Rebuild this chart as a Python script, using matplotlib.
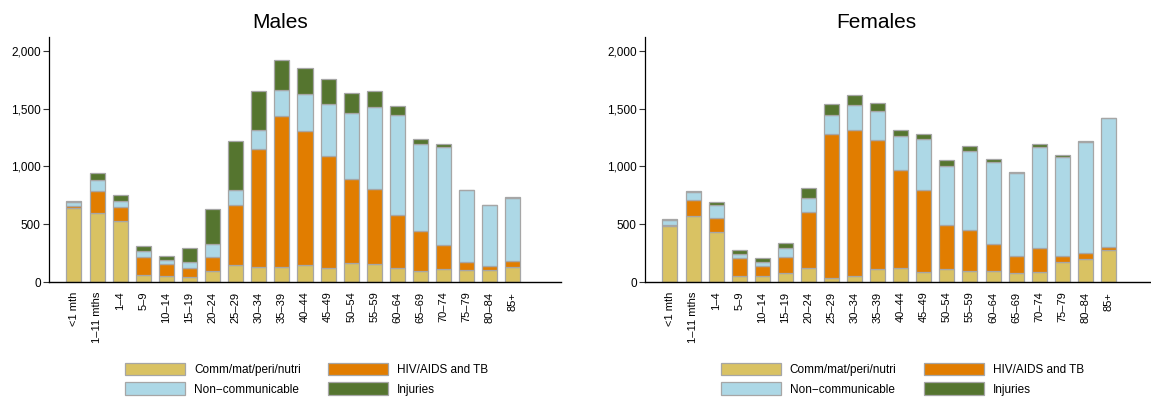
import matplotlib.pyplot as plt
import numpy as np
import matplotlib.patches as mpatches

plt.rcParams['font.family'] = ['Liberation Sans', 'DejaVu Sans']

ages = ['<1 mth', '1–11 mths', '1–4', '5–9', '10–14', '15–19', '20–24', '25–29',
        '30–34', '35–39', '40–44', '45–49', '50–54', '55–59', '60–64', '65–69',
        '70–74', '75–79', '80–84', '85+']
causes = ['Comm/mat/peri/nutri', 'HIV/AIDS and TB', 'Non−communicable', 'Injuries']

# males
m_comm = [640, 600, 525, 60, 52, 43, 92, 144, 130, 126, 144, 121, 164, 156, 121, 95, 112, 104, 104, 130]
m_hiv = [15, 190, 125, 155, 104, 75, 124, 522, 1017, 1312, 1159, 969, 727, 648, 461, 346, 205, 69, 31, 48]
m_ncd = [40, 95, 55, 50, 37, 55, 109, 126, 170, 219, 323, 450, 567, 706, 865, 755, 851, 619, 528, 551]
m_inj = [10, 55, 50, 45, 32, 121, 309, 424, 332, 260, 228, 216, 177, 142, 72, 38, 28, 5, 3, 9]

# females
f_comm = [485, 571, 432, 49, 52, 75, 121, 37, 52, 112, 124, 87, 112, 95, 92, 80, 87, 176, 202, 273]
f_hiv = [10, 141, 118, 159, 83, 144, 485, 1240, 1260, 1116, 841, 709, 378, 357, 233, 148, 204, 49, 49, 32]
f_ncd = [45, 68, 116, 31, 38, 75, 117, 164, 219, 251, 298, 441, 516, 678, 710, 717, 879, 859, 963, 1114]
f_inj = [5, 5, 28, 38, 37, 40, 93, 101, 83, 69, 52, 40, 49, 43, 26, 6, 20, 15, 3, 3]

colors = ['#d9c263', '#e17d00', '#add8e6', '#55752f']
edge = '#a6a6a6'

fig = plt.figure(figsize=(11.51, 4.03), dpi=100)

panels = [
    ('Males', [m_comm, m_hiv, m_ncd, m_inj], [49 / 1151, 0.3002, 512 / 1151, 0.6082], 21.08, 280.5 / 1151, 125 / 1151),
    ('Females', [f_comm, f_hiv, f_ncd, f_inj], [645 / 1151, 0.3002, 505.7 / 1151, 0.6082], 20.83, 876 / 1151, 720.7 / 1151),
]

x = np.arange(len(ages))
for title, series, rect, xmax, tx, lx in panels:
    ax = fig.add_axes(rect)
    bottom = np.zeros(len(ages))
    for vals, c in zip(series, colors):
        ax.bar(x, vals, 0.65, bottom=bottom, color=c, edgecolor=edge, linewidth=0.9)
        bottom += np.array(vals)
    ax.set_xlim(-1.08, xmax)
    ax.set_ylim(0, 2120)
    ax.set_yticks([0, 500, 1000, 1500, 2000])
    ax.set_yticklabels(['0', '500', '1,000', '1,500', '2,000'], fontsize=8.5)
    ax.set_xticks(x)
    ax.set_xticklabels(ages, rotation=90, fontsize=8)
    ax.tick_params(axis='x', length=0, pad=7)
    ax.tick_params(axis='y', length=4, width=0.8, pad=2, color='#333333')
    ax.spines['top'].set_visible(False)
    ax.spines['right'].set_visible(False)
    ax.spines['left'].set_linewidth(0.9)
    ax.spines['bottom'].set_linewidth(1.0)
    fig.text(tx, 1 - 28.3 / 403, title, ha='center', va='baseline', fontsize=15)

    handles = [mpatches.Patch(facecolor=colors[i], edgecolor=edge, linewidth=0.9) for i in [0, 2, 1, 3]]
    labels = [causes[i] for i in [0, 2, 1, 3]]
    fig.legend(handles=handles, labels=labels, loc='upper left',
               bbox_to_anchor=(lx, 1 - 362.7 / 403), ncol=2, frameon=False,
               fontsize=8.5, handlelength=5.1, handleheight=1.26,
               handletextpad=0.75, columnspacing=2.3, labelspacing=0.55,
               borderpad=0, borderaxespad=0)

fig.savefig('out.png', dpi=100)
